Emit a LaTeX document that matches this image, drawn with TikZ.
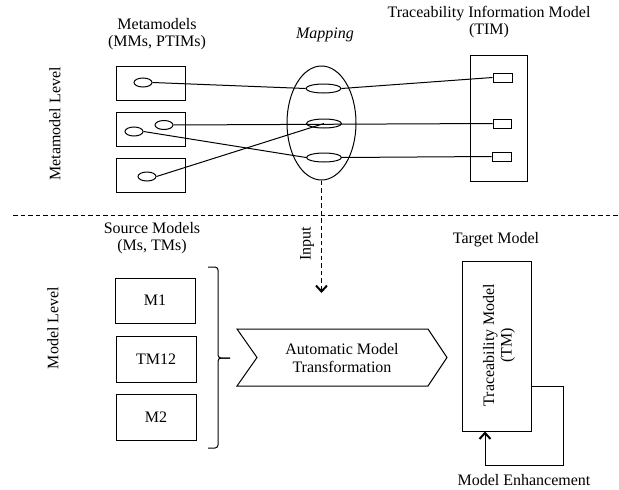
\documentclass[tikz,border=0pt]{standalone}
\usepackage{fontspec}
\setmainfont{Liberation Serif}
\usetikzlibrary{arrows.meta,shapes.geometric}
\begin{document}
\begin{tikzpicture}[x=1pt,y=-1pt,line width=1pt,
  box/.style={draw,rectangle,inner sep=0pt},
  ell/.style={draw,ellipse,inner sep=0pt},
  lbl/.style={font=\fontsize{16}{17.5}\selectfont,align=center,inner sep=0pt},
  tipped/.style={-{Straight Barb[length=6pt,width=11pt,line width=2pt]}},
  dsh/.style={dash pattern=on 4.5pt off 3pt}]
\useasboundingbox (0,0) rectangle (619,490);

% ---- labels
\node[lbl] (tMM) at (157,34) {Metamodels\\(MMs, PTIMs)};
\node[lbl,font=\fontsize{16}{17.5}\selectfont\itshape] (tMap) at (325,35) {Mapping};
\node[lbl] (tTIM) at (489,22) {Traceability Information Model\\(TIM)};
\node[lbl,rotate=90] (tML) at (55,124) {Metamodel Level};
\node[lbl,rotate=90] (tMoL) at (53,328) {Model Level};
\node[lbl] (tSM) at (152,238) {Source Models\\(Ms, TMs)};
\node[lbl,rotate=90] (tIn) at (307,244) {Input};
\node[lbl] (tTM) at (496,240) {Target Model};
\node[lbl] (tEnh) at (524,480) {Model Enhancement};

% ---- metamodel boxes
\node[box,minimum width=69pt,minimum height=34pt] (mm1) at (150.5,83) {};
\node[box,minimum width=69pt,minimum height=34pt] (mm2) at (150.5,129) {};
\node[box,minimum width=69pt,minimum height=34pt] (mm3) at (150.5,175) {};
\node[ell,minimum width=18pt,minimum height=9pt] (e1) at (143,82.5) {};
\node[ell,minimum width=18pt,minimum height=9pt] (e2a) at (164,125) {};
\node[ell,minimum width=18pt,minimum height=9pt] (e2b) at (134,131.5) {};
\node[ell,minimum width=18pt,minimum height=9pt] (e3) at (147,176.5) {};

% ---- mapping
\node[ell,minimum width=69pt,minimum height=114pt] (map) at (321.5,123) {};
\node[ell,minimum width=35pt,minimum height=9pt] (me1) at (323.5,88.5) {};
\node[ell,minimum width=35pt,minimum height=9pt] (me2) at (324,123.5) {};
\node[ell,minimum width=35pt,minimum height=9pt] (me3) at (324,157.5) {};

% ---- TIM
\node[box,minimum width=57pt,minimum height=126pt] (tim) at (498.5,118) {};
\node[box,minimum width=19pt,minimum height=9pt] (r1) at (502.5,77.5) {};
\node[box,minimum width=18pt,minimum height=9pt] (r2) at (502,123.5) {};
\node[box,minimum width=19pt,minimum height=9pt] (r3) at (501.5,156.5) {};

% ---- mapping lines
\draw (e1.east) -- (me1.west);
\draw (me1.east) -- (r1.west);
\draw (e2a.east) -- (r2.west);
\draw (e2b.east) -- (me3.west);
\draw (me3.east) -- (r3.west);
\draw (e3.east) -- (me2.center);

% ---- level separator
\coordinate (sepL) at (13,215);
\coordinate (sepR) at (619,215);
\draw[dsh] (sepL) -- (sepR);

% ---- input arrow
\coordinate (inEnd) at (321.5,293);
\draw[dsh,tipped] (map.south) -- (inEnd);

% ---- source models
\node[box,lbl,minimum width=80pt,minimum height=45pt] (m1) at (155,300.5) {M1};
\node[box,lbl,minimum width=80pt,minimum height=46pt] (tm12) at (156,359) {TM12};
\node[box,lbl,minimum width=80pt,minimum height=46pt] (m2) at (156,417) {M2};

% ---- brace
\draw[rounded corners=3pt] (208,267) -- (218,267) -- (218,358) -- (230,358);
\draw[rounded corners=3pt] (208,448) -- (218,448) -- (218,358) -- (230,358);

% ---- transformation chevron
\draw (237,329) -- (428,329) -- (447,357.5) -- (428,386) -- (237,386) -- (257,357.5) -- cycle;
\node[lbl] (amt) at (342,358) {Automatic Model\\Transformation};

% ---- target model
\node[box,minimum width=69pt,minimum height=170pt] (tgt) at (496.5,346) {};
\node[lbl,rotate=90] (tgtT) at (499,345) {Traceability Model\\(TM)};

% ---- enhancement loop
\coordinate (lp1) at (563,386);
\coordinate (lp2) at (485,465);
\draw[tipped] (tgt.east |- lp1) -- (lp1) |- (lp2) -- (lp2 |- tgt.south);
\end{tikzpicture}
\end{document}
